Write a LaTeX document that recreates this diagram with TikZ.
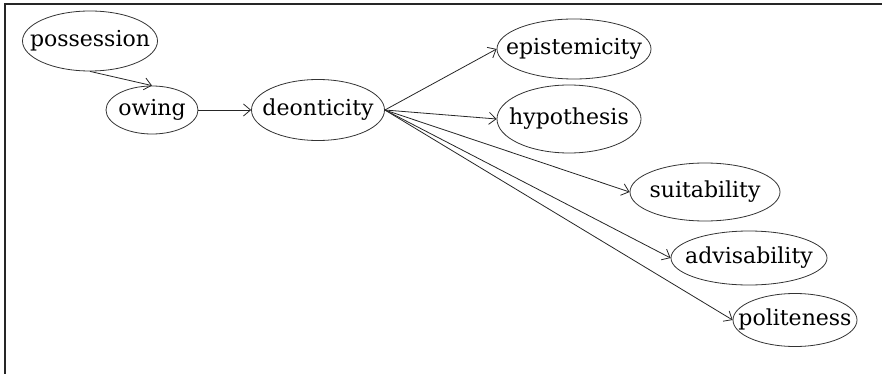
\documentclass[tikz,border=0pt]{standalone}
\usepackage{fontspec}
\setmainfont{DejaVu Serif}
\usetikzlibrary{shapes.geometric,arrows.meta}
\newcommand\zerow[1]{\makebox[0pt]{#1}}
\begin{document}
\begin{tikzpicture}[x=1pt,y=-1pt,
  conc/.style={ellipse,draw=black!80,line width=0.8pt,inner sep=0pt,
    text height=11pt,text depth=0pt,
    font=\fontsize{22}{24}\selectfont,text=black},
  link/.style={draw=black!85,line width=0.8pt,-{Straight Barb[length=7pt,width=12pt,line width=0.8pt]}}]
\useasboundingbox (0,0) rectangle (882,374);
\draw[line width=1.6pt,black!85] (5,374) -- (5,4) -- (882,4);
\node[conc,minimum width=135pt,minimum height=60pt] (pos) at (90,41) {\zerow{possession}};
\node[conc,minimum width=92pt,minimum height=48pt] (owi) at (152,110) {\zerow{owing}};
\node[conc,minimum width=133pt,minimum height=61pt] (deo) at (318,110) {\zerow{deonticity}};
\node[conc,minimum width=154pt,minimum height=60pt] (epi) at (574,49) {\zerow{epistemicity}};
\node[conc,minimum width=144pt,minimum height=68pt] (hyp) at (569,119) {\zerow{hypothesis}};
\node[conc,minimum width=150pt,minimum height=58pt] (sui) at (705,192) {\zerow{suitability}};
\node[conc,minimum width=156pt,minimum height=54pt] (adv) at (749,258) {\zerow{advisability}};
\node[conc,minimum width=124pt,minimum height=53pt] (pol) at (795,320) {\zerow{politeness}};
\draw[link] (pos.south) -- (owi.north);
\draw[link] (owi.east) -- (deo.west);
\draw[link] (deo.east) -- (epi.west);
\draw[link] (deo.east) -- (hyp.west);
\draw[link] (deo.east) -- (sui.west);
\draw[link] (deo.east) -- (adv.west);
\draw[link] (deo.east) -- (pol.west);
\end{tikzpicture}
\end{document}
